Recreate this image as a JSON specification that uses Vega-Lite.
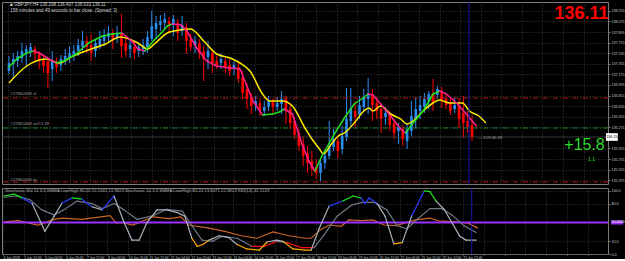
{
  "$schema": "https://vega.github.io/schema/vega-lite/v6.json",
  "background": "#000000",
  "padding": {"left": 0, "top": 1, "right": 0, "bottom": 0},
  "spacing": 2,
  "config": {
    "font": "Liberation Sans",
    "view": {"stroke": "#7a7a7a", "strokeWidth": 1},
    "axis": {"labelFont": "Liberation Sans", "labelColor": "#c8c8c8", "labelFontSize": 3.6, "tickColor": "#808080", "gridColor": "#3a3a3a", "gridDash": [1, 2], "gridWidth": 1, "domain": false, "labelOverlap": false, "labelBound": false, "labelFlush": false}
  },
  "datasets": {
    "candles": [
      {"i":0,"o":137.232,"h":137.487,"l":137.181,"c":137.368},
      {"i":1,"o":137.351,"h":137.538,"l":137.096,"c":137.436},
      {"i":2,"o":137.402,"h":137.572,"l":137.300,"c":137.487},
      {"i":3,"o":137.453,"h":137.708,"l":137.368,"c":137.572},
      {"i":4,"o":137.538,"h":137.674,"l":137.317,"c":137.606},
      {"i":5,"o":137.572,"h":137.708,"l":137.470,"c":137.640},
      {"i":6,"o":137.606,"h":137.657,"l":137.402,"c":137.521},
      {"i":7,"o":137.521,"h":137.572,"l":137.266,"c":137.402},
      {"i":8,"o":137.436,"h":137.487,"l":137.198,"c":137.317},
      {"i":9,"o":137.402,"h":137.436,"l":136.943,"c":137.198},
      {"i":10,"o":137.266,"h":137.572,"l":137.062,"c":137.402},
      {"i":11,"o":137.368,"h":137.453,"l":137.198,"c":137.300},
      {"i":12,"o":137.334,"h":137.504,"l":137.232,"c":137.436},
      {"i":13,"o":137.402,"h":137.606,"l":137.334,"c":137.487},
      {"i":14,"o":137.453,"h":137.657,"l":137.368,"c":137.538},
      {"i":15,"o":137.504,"h":137.674,"l":137.402,"c":137.572},
      {"i":16,"o":137.572,"h":137.776,"l":137.487,"c":137.674},
      {"i":17,"o":137.640,"h":137.912,"l":137.572,"c":137.742},
      {"i":18,"o":137.742,"h":137.827,"l":137.538,"c":137.640},
      {"i":19,"o":137.674,"h":137.861,"l":137.402,"c":137.538},
      {"i":20,"o":137.572,"h":137.776,"l":137.470,"c":137.708},
      {"i":21,"o":137.674,"h":137.912,"l":137.606,"c":137.776},
      {"i":22,"o":137.742,"h":137.946,"l":137.657,"c":137.827},
      {"i":23,"o":137.810,"h":137.997,"l":137.708,"c":137.878},
      {"i":24,"o":137.861,"h":137.946,"l":137.606,"c":137.776},
      {"i":25,"o":137.810,"h":137.997,"l":137.708,"c":137.878},
      {"i":26,"o":137.878,"h":138.201,"l":137.453,"c":137.657},
      {"i":27,"o":137.708,"h":137.827,"l":137.470,"c":137.572},
      {"i":28,"o":137.606,"h":137.776,"l":137.453,"c":137.674},
      {"i":29,"o":137.640,"h":137.742,"l":137.436,"c":137.538},
      {"i":30,"o":137.572,"h":137.708,"l":137.470,"c":137.640},
      {"i":31,"o":137.606,"h":137.776,"l":137.504,"c":137.674},
      {"i":32,"o":137.640,"h":137.912,"l":137.538,"c":137.810},
      {"i":33,"o":137.776,"h":138.252,"l":137.742,"c":137.997},
      {"i":34,"o":137.946,"h":138.167,"l":137.776,"c":138.048},
      {"i":35,"o":138.014,"h":138.184,"l":137.912,"c":138.082},
      {"i":36,"o":138.048,"h":138.218,"l":137.946,"c":138.116},
      {"i":37,"o":138.082,"h":138.150,"l":137.878,"c":138.014},
      {"i":38,"o":138.031,"h":138.184,"l":137.827,"c":138.116},
      {"i":39,"o":138.048,"h":138.116,"l":137.742,"c":137.878},
      {"i":40,"o":137.912,"h":138.167,"l":137.827,"c":138.014},
      {"i":41,"o":137.980,"h":138.048,"l":137.521,"c":137.742},
      {"i":42,"o":137.776,"h":137.861,"l":137.572,"c":137.640},
      {"i":43,"o":137.674,"h":137.827,"l":137.538,"c":137.742},
      {"i":44,"o":137.708,"h":137.776,"l":137.436,"c":137.538},
      {"i":45,"o":137.572,"h":137.657,"l":137.062,"c":137.436},
      {"i":46,"o":137.470,"h":137.742,"l":137.266,"c":137.572},
      {"i":47,"o":137.538,"h":137.606,"l":137.198,"c":137.368},
      {"i":48,"o":137.402,"h":137.487,"l":137.266,"c":137.334},
      {"i":49,"o":137.368,"h":137.538,"l":137.266,"c":137.436},
      {"i":50,"o":137.402,"h":137.487,"l":137.198,"c":137.300},
      {"i":51,"o":137.334,"h":137.436,"l":137.147,"c":137.232},
      {"i":52,"o":137.266,"h":137.402,"l":137.164,"c":137.334},
      {"i":53,"o":137.300,"h":137.368,"l":137.028,"c":137.096},
      {"i":54,"o":137.130,"h":137.232,"l":136.756,"c":136.858},
      {"i":55,"o":136.926,"h":137.028,"l":136.586,"c":136.756},
      {"i":56,"o":136.790,"h":136.858,"l":136.501,"c":136.637},
      {"i":57,"o":136.654,"h":136.807,"l":136.552,"c":136.722},
      {"i":58,"o":136.688,"h":136.756,"l":136.467,"c":136.552},
      {"i":59,"o":136.552,"h":136.722,"l":136.467,"c":136.620},
      {"i":60,"o":136.620,"h":136.807,"l":136.552,"c":136.722},
      {"i":61,"o":136.705,"h":136.756,"l":136.518,"c":136.620},
      {"i":62,"o":136.620,"h":136.790,"l":136.552,"c":136.688},
      {"i":63,"o":136.671,"h":136.892,"l":136.501,"c":136.756},
      {"i":64,"o":136.756,"h":136.807,"l":136.331,"c":136.552},
      {"i":65,"o":136.586,"h":136.654,"l":136.246,"c":136.348},
      {"i":66,"o":136.382,"h":136.450,"l":136.076,"c":136.144},
      {"i":67,"o":136.178,"h":136.246,"l":135.872,"c":135.957},
      {"i":68,"o":135.991,"h":136.127,"l":135.617,"c":135.787},
      {"i":69,"o":135.838,"h":135.957,"l":135.498,"c":135.668},
      {"i":70,"o":135.702,"h":135.872,"l":135.447,"c":135.566},
      {"i":71,"o":135.600,"h":135.736,"l":135.396,"c":135.498},
      {"i":72,"o":135.498,"h":135.736,"l":135.362,"c":135.668},
      {"i":73,"o":135.668,"h":135.906,"l":135.566,"c":135.787},
      {"i":74,"o":135.787,"h":136.382,"l":135.736,"c":135.957},
      {"i":75,"o":135.940,"h":136.246,"l":135.872,"c":136.076},
      {"i":76,"o":136.042,"h":136.127,"l":135.753,"c":135.872},
      {"i":77,"o":135.906,"h":136.297,"l":135.821,"c":136.127},
      {"i":78,"o":136.110,"h":136.943,"l":136.042,"c":136.416},
      {"i":79,"o":136.382,"h":136.943,"l":136.297,"c":136.586},
      {"i":80,"o":136.552,"h":136.722,"l":136.280,"c":136.450},
      {"i":81,"o":136.484,"h":136.807,"l":136.416,"c":136.654},
      {"i":82,"o":136.620,"h":136.926,"l":136.552,"c":136.790},
      {"i":83,"o":136.756,"h":137.113,"l":136.501,"c":136.858},
      {"i":84,"o":136.824,"h":136.926,"l":136.382,"c":136.654},
      {"i":85,"o":136.688,"h":136.790,"l":136.416,"c":136.552},
      {"i":86,"o":136.586,"h":136.654,"l":136.178,"c":136.416},
      {"i":87,"o":136.450,"h":136.620,"l":136.314,"c":136.518},
      {"i":88,"o":136.484,"h":136.552,"l":136.212,"c":136.314},
      {"i":89,"o":136.348,"h":136.416,"l":136.076,"c":136.178},
      {"i":90,"o":136.212,"h":136.348,"l":135.991,"c":136.280},
      {"i":91,"o":136.246,"h":136.314,"l":135.957,"c":136.076},
      {"i":92,"o":136.042,"h":136.348,"l":135.906,"c":136.246},
      {"i":93,"o":136.212,"h":136.722,"l":136.127,"c":136.467},
      {"i":94,"o":136.416,"h":136.773,"l":136.263,"c":136.586},
      {"i":95,"o":136.552,"h":136.807,"l":136.416,"c":136.654},
      {"i":96,"o":136.620,"h":136.858,"l":136.518,"c":136.756},
      {"i":97,"o":136.722,"h":136.892,"l":136.586,"c":136.841},
      {"i":98,"o":136.858,"h":137.096,"l":136.552,"c":136.688},
      {"i":99,"o":136.824,"h":136.977,"l":136.756,"c":136.926},
      {"i":100,"o":136.892,"h":136.960,"l":136.603,"c":136.722},
      {"i":101,"o":136.756,"h":136.824,"l":136.586,"c":136.654},
      {"i":102,"o":136.688,"h":136.756,"l":136.484,"c":136.552},
      {"i":103,"o":136.586,"h":136.790,"l":136.518,"c":136.654},
      {"i":104,"o":136.654,"h":136.773,"l":136.263,"c":136.416},
      {"i":105,"o":136.518,"h":136.807,"l":136.093,"c":136.348},
      {"i":106,"o":136.382,"h":136.552,"l":136.178,"c":136.280},
      {"i":107,"o":136.314,"h":136.467,"l":136.042,"c":136.110}
    ],
    "slow": [
      {"i":0,"v":137.028},{"i":4.1,"v":137.317},{"i":8.6,"v":137.436},{"i":11.6,"v":137.368},{"i":14.8,"v":137.487},
      {"i":17.7,"v":137.572},{"i":22.3,"v":137.691},{"i":25.7,"v":137.810},{"i":29.8,"v":137.708},{"i":32,"v":137.606},
      {"i":33.6,"v":137.691},{"i":36.6,"v":137.878},{"i":38.2,"v":137.912},{"i":42,"v":137.946},{"i":45,"v":137.742},
      {"i":48,"v":137.521},{"i":51.1,"v":137.453},{"i":53.4,"v":137.368},{"i":55.7,"v":137.232},{"i":58.6,"v":136.841},
      {"i":60.2,"v":136.722},{"i":63.2,"v":136.722},{"i":65.5,"v":136.637},{"i":68.4,"v":136.263},{"i":70,"v":136.076},
      {"i":71.6,"v":135.923},{"i":72.7,"v":135.821},{"i":74.5,"v":135.991},{"i":76.1,"v":136.127},{"i":77.5,"v":136.178},
      {"i":79.8,"v":136.348},{"i":82,"v":136.552},{"i":83.2,"v":136.603},{"i":84.1,"v":136.552},{"i":85.9,"v":136.637},
      {"i":88.2,"v":136.501},{"i":90.5,"v":136.416},{"i":92,"v":136.331},{"i":93.4,"v":136.382},{"i":95.7,"v":136.552},
      {"i":98,"v":136.688},{"i":99.5,"v":136.739},{"i":101.8,"v":136.688},{"i":104.8,"v":136.688},{"i":106.4,"v":136.552},
      {"i":108.6,"v":136.467},{"i":110.2,"v":136.348}
    ],
    "fast": [
      {"i":0,"v":137.300},{"i":1.8,"v":137.436},{"i":4.1,"v":137.538},{"i":5.7,"v":137.572},{"i":7,"v":137.538},
      {"i":9.3,"v":137.436},{"i":10.9,"v":137.368},{"i":12.7,"v":137.402},{"i":15.5,"v":137.521},{"i":18.4,"v":137.708},
      {"i":21.6,"v":137.827},{"i":23.9,"v":137.861},{"i":26.1,"v":137.878},{"i":28.4,"v":137.742},{"i":29.8,"v":137.606},
      {"i":31.4,"v":137.572},{"i":33.6,"v":137.759},{"i":35.2,"v":137.878},{"i":36.6,"v":137.997},{"i":37.7,"v":138.031},
      {"i":39.8,"v":138.014},{"i":41.1,"v":137.912},{"i":43.4,"v":137.623},{"i":45.7,"v":137.402},{"i":48,"v":137.317},
      {"i":51.1,"v":137.283},{"i":53.4,"v":137.266},{"i":54.8,"v":137.011},{"i":56.4,"v":136.722},{"i":58.6,"v":136.484},
      {"i":60.9,"v":136.501},{"i":62.5,"v":136.535},{"i":63.6,"v":136.586},{"i":65.5,"v":136.501},{"i":67.7,"v":135.991},
      {"i":69.3,"v":135.702},{"i":70.7,"v":135.532},{"i":72.3,"v":135.787},{"i":73.9,"v":135.991},{"i":75.2,"v":136.161},
      {"i":77.5,"v":136.433},{"i":79.8,"v":136.671},{"i":81.8,"v":136.773},{"i":83,"v":136.841},{"i":84.1,"v":136.824},
      {"i":85.9,"v":136.671},{"i":88.2,"v":136.467},{"i":90.5,"v":136.246},{"i":91.6,"v":136.178},{"i":93.4,"v":136.348},
      {"i":95.7,"v":136.552},{"i":98,"v":136.841},{"i":99.5,"v":136.892},{"i":101.1,"v":136.841},{"i":103.4,"v":136.688},
      {"i":105.7,"v":136.501},{"i":108,"v":136.297}
    ],
    "k": [
      {"i":0,"v":92},{"i":2.3,"v":95},{"i":4.1,"v":89},{"i":6.4,"v":80},{"i":9.3,"v":36},{"i":11.4,"v":60},{"i":13.2,"v":81},
      {"i":15.5,"v":89},{"i":17.7,"v":87},{"i":20,"v":75},{"i":22.3,"v":70},{"i":25,"v":92},{"i":27.3,"v":50},{"i":29.1,"v":22},
      {"i":30.7,"v":22},{"i":32.5,"v":50},{"i":34.8,"v":70},{"i":37,"v":70},{"i":39.3,"v":66},{"i":41.1,"v":60},{"i":42.7,"v":25},
      {"i":43.9,"v":12},{"i":45.2,"v":15},{"i":46.6,"v":22},{"i":48.9,"v":29},{"i":51.1,"v":26},{"i":53,"v":15},{"i":55.2,"v":8},
      {"i":58,"v":6},{"i":59.8,"v":19},{"i":62,"v":22},{"i":63.4,"v":20},{"i":65.7,"v":8},{"i":68.4,"v":6},{"i":69.8,"v":6},
      {"i":71.6,"v":40},{"i":73.9,"v":76},{"i":77,"v":84},{"i":79.3,"v":92},{"i":81.1,"v":89},{"i":82,"v":80},{"i":83,"v":89},
      {"i":84.8,"v":80},{"i":86.6,"v":60},{"i":88.6,"v":16},{"i":90.5,"v":18},{"i":92.7,"v":61},{"i":95.5,"v":100},{"i":96.8,"v":99},
      {"i":98.2,"v":84},{"i":100,"v":71},{"i":101.8,"v":50},{"i":103.6,"v":28},{"i":105,"v":22},{"i":107.3,"v":22}
    ],
    "d": [
      {"i":0,"v":90},{"i":3,"v":92},{"i":5.9,"v":86},{"i":8.6,"v":70},{"i":11.4,"v":62},{"i":13.6,"v":70},{"i":16.6,"v":84},
      {"i":20,"v":80},{"i":22.3,"v":72},{"i":25,"v":80},{"i":27.3,"v":70},{"i":30.2,"v":55},{"i":33.6,"v":60},{"i":37,"v":71},
      {"i":40.5,"v":68},{"i":42.7,"v":45},{"i":45,"v":22},{"i":47.3,"v":20},{"i":49.5,"v":28},{"i":53,"v":25},{"i":56.4,"v":12},
      {"i":59.1,"v":12},{"i":62,"v":20},{"i":64.3,"v":18},{"i":67.7,"v":10},{"i":70.5,"v":10},{"i":72.7,"v":30},{"i":75.7,"v":60},
      {"i":79.1,"v":78},{"i":81.4,"v":82},{"i":84.1,"v":82},{"i":87,"v":70},{"i":89.3,"v":45},{"i":91.6,"v":40},{"i":93.9,"v":55},
      {"i":96.8,"v":72},{"i":99.5,"v":72},{"i":101.8,"v":62},{"i":104.5,"v":45},{"i":107.3,"v":34}
    ],
    "rsi": [
      {"i":0,"v":51},{"i":3.2,"v":53},{"i":7.7,"v":46},{"i":11.4,"v":55},{"i":13.2,"v":57},{"i":17.7,"v":55},{"i":24.1,"v":61},
      {"i":25.5,"v":49},{"i":26.8,"v":50},{"i":29.3,"v":46},{"i":33.9,"v":59},{"i":37.5,"v":56},{"i":40.2,"v":59},{"i":42,"v":46},
      {"i":46.6,"v":41},{"i":50.2,"v":36},{"i":53.9,"v":29},{"i":57.5,"v":25},{"i":61.1,"v":35},{"i":64.8,"v":29},{"i":68.4,"v":25},
      {"i":69.8,"v":25},{"i":72,"v":39},{"i":73.9,"v":46},{"i":76.6,"v":44},{"i":78.4,"v":54},{"i":81.1,"v":53},{"i":83.9,"v":54},
      {"i":86.4,"v":46},{"i":89.1,"v":45},{"i":90.9,"v":49},{"i":93.6,"v":54},{"i":96.8,"v":57},{"i":99.1,"v":52},{"i":102.7,"v":51},
      {"i":105.5,"v":49},{"i":107.7,"v":41}
    ]
  },
  "vconcat": [
    {
      "width": 606,
      "height": 182,
      "layer": [
        {
          "data": {"name": "candles"},
          "mark": {"type": "rule", "strokeWidth": 1},
          "encoding": {
            "x": {"field": "i", "type": "quantitative", "title": null,
                  "scale": {"domain": [-0.45, 137.27], "nice": false, "zero": false},
                  "axis": {"values": [-0.23,4.52,9.27,14.02,18.77,23.52,28.27,33.02,37.77,42.52,47.27,52.02,56.77,61.52,66.27,71.02,75.77,80.52,85.27,90.02,94.77,99.52,104.27,109.02,113.77,118.52,123.27,128.02,132.77],
                           "tickCount": 200, "labels": false, "ticks": false, "grid": true, "title": null}},
            "y": {"field": "l", "type": "quantitative", "title": null,
                  "scale": {"domain": [135.311, 138.405], "nice": false, "zero": false},
                  "axis": {"orient": "right", "values": [135.375,135.555,135.735,135.915,136.275,136.455,136.635,136.815,136.995,137.175,137.355,137.535,137.715,137.895,138.075,138.255],
                           "tickCount": 200, "format": ".3f", "tickSize": 2, "labelPadding": 1, "labelOverlap": false, "grid": true, "title": null}},
            "y2": {"field": "h"},
            "color": {"condition": {"test": "datum.c >= datum.o", "value": "#2b8cf0"}, "value": "#ff0000"}
          }
        },
        {
          "data": {"values": [{"p": 136.773}, {"p": 135.345}]},
          "mark": {"type": "rule", "color": "#b01818", "strokeDash": [5, 2, 1, 2], "strokeWidth": 1},
          "encoding": {"y": {"field": "p", "type": "quantitative", "title": null}}
        },
        {
          "data": {"values": [{"p": 136.263}]},
          "mark": {"type": "rule", "color": "#23882a", "strokeDash": [5, 2, 1, 2], "strokeWidth": 1},
          "encoding": {"y": {"field": "p", "type": "quantitative", "title": null}}
        },
        {
          "data": {"values": [{"p": 136.11}]},
          "mark": {"type": "rule", "color": "#3c3c3c", "strokeWidth": 1},
          "encoding": {"y": {"field": "p", "type": "quantitative", "title": null}}
        },
        {
          "data": {"name": "candles"},
          "mark": {"type": "bar", "width": 2.6},
          "encoding": {
            "x": {"field": "i", "type": "quantitative", "title": null},
            "y": {"field": "o", "type": "quantitative", "title": null},
            "y2": {"field": "c"},
            "color": {"condition": {"test": "datum.c >= datum.o", "value": "#2b8cf0"}, "value": "#ff0000"}
          }
        },
        {
          "data": {"name": "slow"},
          "mark": {"type": "line", "color": "#ffe800", "strokeWidth": 1.5, "interpolate": "monotone"},
          "encoding": {
            "x": {"field": "i", "type": "quantitative", "title": null},
            "y": {"field": "v", "type": "quantitative", "title": null}
          }
        },
        {
          "data": {"name": "fast"},
          "transform": [
            {"window": [{"op": "lead", "field": "i", "as": "i2"}, {"op": "lead", "field": "v", "as": "v2"}], "sort": [{"field": "i", "order": "ascending"}]},
            {"filter": "datum.i2 != null"}
          ],
          "mark": {"type": "rule", "strokeWidth": 1.5, "strokeCap": "round"},
          "encoding": {
            "x": {"field": "i", "type": "quantitative", "title": null},
            "x2": {"field": "i2"},
            "y": {"field": "v", "type": "quantitative", "title": null},
            "y2": {"field": "v2"},
            "color": {"condition": {"test": "datum.v2 >= datum.v", "value": "#22dd22"}, "value": "#ff1f8f"}
          }
        },
        {
          "data": {"values": [{"i": 106.3}]},
          "mark": {"type": "rule", "color": "#1a1ab0", "strokeWidth": 1},
          "encoding": {"x": {"field": "i", "type": "quantitative", "title": null}}
        },
        {
          "data": {"values": [{"t": "136.110"}]},
          "mark": {"type": "rect", "color": "#ffffff", "clip": false},
          "encoding": {
            "x": {"datum": 137.95, "type": "quantitative"},
            "x2": {"datum": 140.7},
            "y": {"datum": 136.175, "type": "quantitative"},
            "y2": {"datum": 136.045}
          }
        },
        {
          "data": {"values": [{"t": "136.110"}]},
          "mark": {"type": "text", "align": "left", "baseline": "middle", "fontSize": 3.6, "color": "#000000", "clip": false},
          "encoding": {
            "x": {"datum": 138.05, "type": "quantitative"},
            "y": {"datum": 136.11, "type": "quantitative"},
            "text": {"field": "t"}
          }
        },
        {
          "data": {"values": [
            {"i": 0.3, "p": 138.354, "t": "■ GBPJPY,H4  136.298 136.407 136.033 136.11"},
            {"i": 0.3, "p": 138.252, "t": "158 minutes and 49 seconds to bar close. (Spread: 3)"}
          ]},
          "mark": {"type": "text", "align": "left", "baseline": "middle", "fontSize": 4.5, "color": "#d0d0d0"},
          "encoding": {
            "x": {"field": "i", "type": "quantitative", "title": null},
            "y": {"field": "p", "type": "quantitative", "title": null},
            "text": {"field": "t"}
          }
        },
        {
          "data": {"values": [
            {"i": 0.3, "p": 136.841, "t": "#27860468 sl"},
            {"i": 0.3, "p": 136.331, "t": "#27860468 sell 0.18"},
            {"i": 0.3, "p": 135.379, "t": "#27860468 tp"},
            {"i": 108.3, "p": 136.093, "t": "— 159:46:28"}
          ]},
          "mark": {"type": "text", "align": "left", "baseline": "middle", "fontSize": 4.3, "color": "#9a9a9a"},
          "encoding": {
            "x": {"field": "i", "type": "quantitative", "title": null},
            "y": {"field": "p", "type": "quantitative", "title": null},
            "text": {"field": "t"}
          }
        },
        {
          "data": {"values": [{"i": 132.3, "p": 138.208, "t": "136.11"}]},
          "mark": {"type": "text", "align": "center", "baseline": "middle", "fontSize": 18, "fontWeight": "bold", "color": "#ff0000"},
          "encoding": {
            "x": {"field": "i", "type": "quantitative", "title": null},
            "y": {"field": "p", "type": "quantitative", "title": null},
            "text": {"field": "t"}
          }
        },
        {
          "data": {"values": [{"i": 133, "p": 135.974, "t": "+15.8"}]},
          "mark": {"type": "text", "align": "center", "baseline": "middle", "fontSize": 16, "color": "#2fd82f"},
          "encoding": {
            "x": {"field": "i", "type": "quantitative", "title": null},
            "y": {"field": "p", "type": "quantitative", "title": null},
            "text": {"field": "t"}
          }
        },
        {
          "data": {"values": [{"i": 134.6, "p": 135.736, "t": "1.1"}]},
          "mark": {"type": "text", "align": "center", "baseline": "middle", "fontSize": 5, "color": "#2fd82f"},
          "encoding": {
            "x": {"field": "i", "type": "quantitative", "title": null},
            "y": {"field": "p", "type": "quantitative", "title": null},
            "text": {"field": "t"}
          }
        }
      ]
    },
    {
      "width": 606,
      "height": 66,
      "layer": [
        {
          "data": {"name": "rsi"},
          "mark": {"type": "line", "color": "#c8642a", "strokeWidth": 1.2},
          "encoding": {
            "x": {"field": "i", "type": "quantitative", "title": null,
                  "scale": {"domain": [-0.45, 137.27], "nice": false, "zero": false},
                  "axis": {"values": [-0.23,4.52,9.27,14.02,18.77,23.52,28.27,33.02,37.77,42.52,47.27,52.02,56.77,61.52,66.27,71.02,75.77,80.52,85.27,90.02,94.77,99.52,104.27,109.02,113.77,118.52,123.27,128.02,132.77],
                           "tickCount": 200,
                           "labelExpr": "['4 Jun 2018','5 Jun 12:00','6 Jun 04:00','6 Jun 20:00','7 Jun 12:00','8 Jun 04:00','10 Jun 20:00','11 Jun 12:00','12 Jun 04:00','12 Jun 20:00','13 Jun 12:00','14 Jun 04:00','14 Jun 20:00','15 Jun 12:00','17 Jun 20:00','18 Jun 12:00','19 Jun 04:00','19 Jun 20:00','20 Jun 12:00','21 Jun 04:00','21 Jun 20:00','22 Jun 12:00','25 Jun 12:00'][round((datum.value + 0.23) / 4.75)] || ''",
                           "labelAlign": "left", "labelBaseline": "top", "labelPadding": 0, "labelFontSize": 3.3, "labelOverlap": false, "tickSize": 1, "grid": true, "title": null}},
            "y": {"field": "v", "type": "quantitative", "title": null,
                  "scale": {"domain": [0, 104.7], "nice": false, "zero": false},
                  "axis": {"orient": "right", "values": [0, 20, 80, 100], "tickCount": 200, "tickSize": 2, "labelPadding": 1, "labelOverlap": false, "grid": true, "title": null}}
          }
        },
        {
          "data": {"values": [{"v": 50}]},
          "mark": {"type": "rule", "color": "#9b30ff", "strokeWidth": 2},
          "encoding": {"y": {"field": "v", "type": "quantitative", "title": null}}
        },
        {
          "data": {"name": "d"},
          "transform": [
            {"window": [{"op": "lead", "field": "i", "as": "i2"}, {"op": "lead", "field": "v", "as": "v2"}], "sort": [{"field": "i", "order": "ascending"}]},
            {"filter": "datum.i2 != null"}
          ],
          "mark": {"type": "rule", "strokeWidth": 1.2, "strokeCap": "round"},
          "encoding": {
            "x": {"field": "i", "type": "quantitative", "title": null},
            "x2": {"field": "i2"},
            "y": {"field": "v", "type": "quantitative", "title": null},
            "y2": {"field": "v2"},
            "color": {"condition": {"test": "(datum.v + datum.v2) / 2 <= 18", "value": "#ff1010"}, "value": "#6e7883"}
          }
        },
        {
          "data": {"name": "k"},
          "transform": [
            {"window": [{"op": "lead", "field": "i", "as": "i2"}, {"op": "lead", "field": "v", "as": "v2"}], "sort": [{"field": "i", "order": "ascending"}]},
            {"filter": "datum.i2 != null"}
          ],
          "mark": {"type": "rule", "strokeWidth": 1.2, "strokeCap": "round"},
          "encoding": {
            "x": {"field": "i", "type": "quantitative", "title": null},
            "x2": {"field": "i2"},
            "y": {"field": "v", "type": "quantitative", "title": null},
            "y2": {"field": "v2"},
            "color": {"condition": [
              {"test": "(datum.v + datum.v2) / 2 >= 86", "value": "#19e619"},
              {"test": "(datum.v + datum.v2) / 2 >= 79", "value": "#2a3cff"},
              {"test": "(datum.v + datum.v2) / 2 <= 20", "value": "#ffaa00"}
            ], "value": "#a9b2bc"}
          }
        },
        {
          "data": {"values": [{"i": 106.3}]},
          "mark": {"type": "rule", "color": "#1a1ab0", "strokeWidth": 1},
          "encoding": {"x": {"field": "i", "type": "quantitative", "title": null}}
        },
        {
          "data": {"values": [{"t": "50.0000"}]},
          "mark": {"type": "rect", "color": "#9b30ff", "clip": false},
          "encoding": {
            "x": {"datum": 137.95, "type": "quantitative"},
            "x2": {"datum": 140.7},
            "y": {"datum": 53.2, "type": "quantitative"},
            "y2": {"datum": 46.8}
          }
        },
        {
          "data": {"values": [{"t": "50.0000"}]},
          "mark": {"type": "text", "align": "left", "baseline": "middle", "fontSize": 3.6, "color": "#ffffff", "clip": false},
          "encoding": {
            "x": {"datum": 138.05, "type": "quantitative"},
            "y": {"datum": 50, "type": "quantitative"},
            "text": {"field": "t"}
          }
        },
        {
          "data": {"values": [{"i": 0.3, "v": 100, "t": "Stochastic Slo 14,3,3 SMMA Low/High 80.20 15.5341 22.9823   Stochastic 14,3,3 SMMA Low/High 80.20 13.8071 22.9823   RSI(14) 41.1523"}]},
          "mark": {"type": "text", "align": "left", "baseline": "middle", "fontSize": 4.3, "color": "#b0b0b0"},
          "encoding": {
            "x": {"field": "i", "type": "quantitative", "title": null},
            "y": {"field": "v", "type": "quantitative", "title": null},
            "text": {"field": "t"}
          }
        }
      ]
    }
  ]
}
